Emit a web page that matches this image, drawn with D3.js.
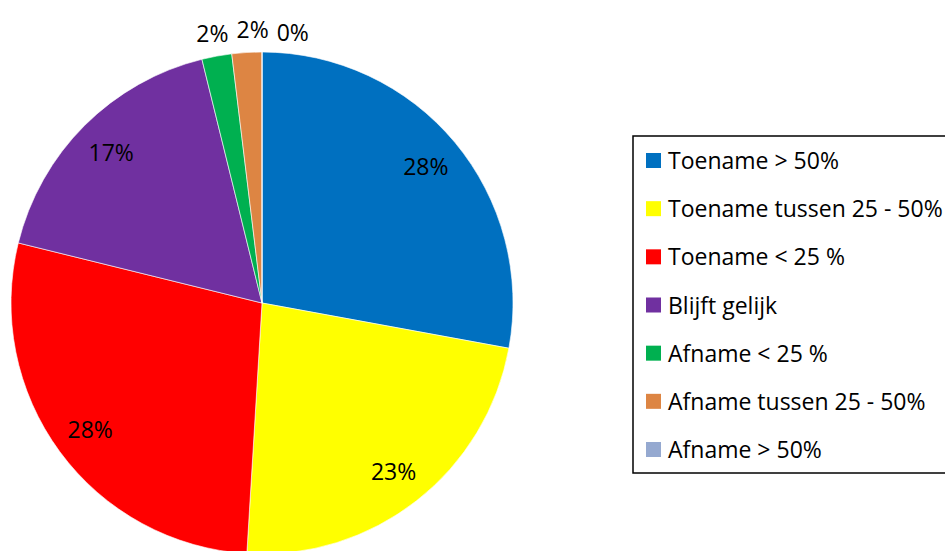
<!DOCTYPE html>
<html lang="nl">
<head>
<meta charset="UTF-8">
<title>Pie</title>
<script src="https://d3js.org/d3.v7.min.js"></script>
<style>
    body { margin: 0; background: #fff; }
    svg { font-family: "Open Sans", sans-serif; }
</style>
</head>
<body>
<script>
    // data
    const categories = ["Toename > 50%", "Toename tussen 25 - 50%", "Toename < 25 %", "Blijft gelijk",
        "Afname < 25 %", "Afname tussen 25 - 50%", "Afname > 50%"];
    const values = [29, 24, 29, 18, 2, 2, 0];
    const colors = ["#0070C0", "#FFFF00", "#FF0000", "#7030A0", "#00B050", "#DD8543", "#95A9D0"];

    const w = 945, h = 551;
    const cx = 262, cy = 303, r = 251;

    const svg = d3.select("body").append("svg")
        .attr("width", w)
        .attr("height", h);

    const total = d3.sum(values);
    const pie = d3.pie().sort(null).value(d => d);
    const arcs = pie(values);
    const arc = d3.arc().innerRadius(0).outerRadius(r);
    const inLabel = d3.arc().innerRadius(r * 0.85).outerRadius(r * 0.85);
    const outLabel = d3.arc().innerRadius(275).outerRadius(275);

    const g = svg.append("g").attr("transform", `translate(${cx},${cy})`);

    g.selectAll("path")
        .data(arcs)
        .enter()
        .append("path")
        .attr("d", arc)
        .attr("fill", (d, i) => colors[i])
        .attr("stroke", "#fff")
        .attr("stroke-width", 0.6);

    // labels: big slices inside, small ones outside
    const pct = d => Math.round(d.data / total * 100) + "%";
    let lastRight = -Infinity;
    arcs.forEach((d, i) => {
        const small = d.data / total < 0.05;
        let [x, y] = small ? outLabel.centroid(d) : inLabel.centroid(d);
        const t = g.append("text")
            .text(pct(d))
            .attr("font-size", "23px")
            .attr("fill", "#000")
            .attr("text-anchor", "middle")
            .attr("dominant-baseline", "central");
        if (small) {
            const bw = t.node().getComputedTextLength();
            // push right to avoid overlap with previous outside label
            if (x - bw / 2 < lastRight + 8) x = lastRight + 8 + bw / 2;
            if (i === arcs.length - 1 || d.data === 0) y += 4;
            lastRight = x + bw / 2;
        }
        t.attr("x", x).attr("y", y);
    });

    // legend
    const lg = svg.append("g").attr("transform", "translate(633,136)");
    lg.append("rect")
        .attr("x", 0).attr("y", 0)
        .attr("width", 330).attr("height", 337)
        .attr("fill", "#fff")
        .attr("stroke", "#000")
        .attr("stroke-width", 1.5);

    const rowY = d3.scalePoint().domain(categories).range([24, 313]);

    const items = lg.selectAll("g.item")
        .data(categories)
        .enter()
        .append("g")
        .attr("class", "item")
        .attr("transform", d => `translate(0,${rowY(d)})`);

    items.append("rect")
        .attr("x", 13).attr("y", -7)
        .attr("width", 15).attr("height", 15)
        .attr("fill", (d, i) => colors[i]);

    items.append("text")
        .attr("x", 35).attr("y", 0)
        .attr("dominant-baseline", "central")
        .attr("font-size", "23px")
        .attr("fill", "#000")
        .text(d => d);
</script>
</body>
</html>
